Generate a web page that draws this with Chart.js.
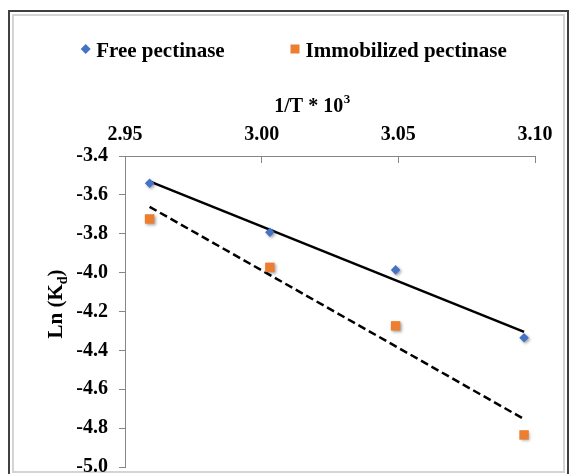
<!DOCTYPE html>
<html lang="en">
<head>
    <meta charset="UTF-8">
    <title>Ln(Kd) vs 1/T</title>
    <style>
        html, body { margin: 0; padding: 0; background: #fff; }
        #chart { display: block; }
    </style>
</head>
<body>
<canvas id="chart" width="570" height="474"></canvas>

<script src="https://cdn.jsdelivr.net/npm/chart.js@4.4.0/dist/chart.umd.min.js"></script>
<script>
    // ------------------------------------------------------------------ data

    var invT = [2.959, 3.003, 3.049, 3.096]          // 1/T * 10^3
    var freeLnKd = [-3.540, -3.792, -3.986, -4.335]
    var immobLnKd = [-3.724, -3.973, -4.274, -4.835]

    var xTicks = [2.95, 3.00, 3.05, 3.10]
    var yTicks = [-3.4, -3.6, -3.8, -4.0, -4.2, -4.4, -4.6, -4.8, -5.0]

    var seriesNames = ['Free pectinase', 'Immobilized pectinase']
    var seriesColors = ['#4472C4', '#ED7D31']

    // least squares trend line, spanning the data
    function trend (xs, ys) {
      var n = xs.length, mx = 0, my = 0, sxy = 0, sxx = 0
      for (var i = 0; i < n; i++) { mx += xs[i] / n; my += ys[i] / n }
      for (var j = 0; j < n; j++) {
        sxy += (xs[j] - mx) * (ys[j] - my)
        sxx += (xs[j] - mx) * (xs[j] - mx)
      }
      var b = sxy / sxx
      var x0 = Math.min.apply(null, xs), x1 = Math.max.apply(null, xs)
      return [{x: x0, y: my + b * (x0 - mx)}, {x: x1, y: my + b * (x1 - mx)}]
    }

    function pts (xs, ys) {
      return xs.map(function (x, i) { return {x: x, y: ys[i]} })
    }

    var SERIF = '"Liberation Serif", "Times New Roman", serif'
    var AXIS = '#868686'

    // ------------------------------------------------------------- plugins

    // frame, legend and axis titles
    var decor = {
      id: 'decor',
      beforeDraw: function (chart) {
        var c = chart.ctx
        c.save()
        c.fillStyle = '#fff'
        c.fillRect(0, 0, chart.width, chart.height)
        c.strokeStyle = '#d4d4d4'
        c.lineWidth = 2
        c.strokeRect(13, 15, 551, 457)
        c.strokeStyle = '#404040'
        c.lineWidth = 2
        c.strokeRect(9, 11, 559, 480)
        c.restore()
      },
      afterDraw: function (chart) {
        var c = chart.ctx
        c.save()
        c.fillStyle = '#000'
        c.textBaseline = 'alphabetic'

        // legend
        var legendX = [85.7, 295]
        c.font = 'bold 21px ' + SERIF
        chart.data.datasets.forEach(function (ds) {
          if (ds.legendIndex === undefined) return
          var cx = legendX[ds.legendIndex], cy = 49
          c.fillStyle = ds.backgroundColor
          c.beginPath()
          if (ds.pointStyle === 'rectRot') {
            c.moveTo(cx, cy - 5); c.lineTo(cx + 5, cy); c.lineTo(cx, cy + 5); c.lineTo(cx - 5, cy)
          } else {
            c.rect(cx - 4.5, cy - 4.5, 9, 9)
          }
          c.closePath()
          c.fill()
          c.fillStyle = '#000'
          c.fillText(ds.label, cx + 10.5, 56.5)
        })

        // x title: 1/T * 10^3
        c.font = 'bold 20px ' + SERIF
        var t1 = '1/T * 10'
        var w1 = c.measureText(t1).width
        c.font = 'bold 13px ' + SERIF
        var w2 = c.measureText('3').width
        var sx = 312 - (w1 + w2) / 2
        c.font = 'bold 20px ' + SERIF
        c.fillText(t1, sx, 111.5)
        c.font = 'bold 13px ' + SERIF
        c.fillText('3', sx + w1 + 0.5, 103)

        // y title: Ln (Kd), rotated
        c.translate(62, 304)
        c.rotate(-Math.PI / 2)
        c.font = 'bold 21px ' + SERIF
        var a = 'Ln (K', b = ')'
        var wa = c.measureText(a).width, wb = c.measureText(b).width
        c.font = 'bold 14px ' + SERIF
        var wd = c.measureText('d').width
        var ux = -(wa + wd + wb) / 2
        c.font = 'bold 21px ' + SERIF
        c.fillText(a, ux, 0)
        c.font = 'bold 14px ' + SERIF
        c.fillText('d', ux + wa, 5)
        c.font = 'bold 21px ' + SERIF
        c.fillText(b, ux + wa + wd, 0)
        c.restore()
      }
    }

    // soft shadow under markers
    var markerShadow = {
      id: 'markerShadow',
      beforeDatasetDraw: function (chart, args) {
        if (args.meta.type !== 'scatter') return
        var c = chart.ctx
        c.save()
        c.shadowColor = 'rgba(0, 0, 0, 0.35)'
        c.shadowBlur = 3
        c.shadowOffsetX = 1.5
        c.shadowOffsetY = 1.5
      },
      afterDatasetDraw: function (chart, args) {
        if (args.meta.type !== 'scatter') return
        chart.ctx.restore()
      }
    }

    // ---------------------------------------------------------------- chart

    var ctx = document.getElementById('chart').getContext('2d')

    new Chart(ctx, {
      type: 'scatter',
      data: {
        datasets: [
          {
            type: 'scatter',
            label: seriesNames[0],
            legendIndex: 0,
            data: pts(invT, freeLnKd),
            pointStyle: 'rectRot',
            pointRadius: 4.8,
            backgroundColor: seriesColors[0],
            borderWidth: 0,
            order: 0
          },
          {
            type: 'scatter',
            label: seriesNames[1],
            legendIndex: 1,
            data: pts(invT, immobLnKd),
            pointStyle: 'rect',
            pointRadius: 6.7,
            backgroundColor: seriesColors[1],
            borderWidth: 0,
            order: 0
          },
          {
            type: 'line',
            label: 'Free trend',
            data: trend(invT, freeLnKd),
            borderColor: '#000',
            borderWidth: 2.5,
            pointRadius: 0,
            fill: false,
            order: 1
          },
          {
            type: 'line',
            label: 'Immobilized trend',
            data: trend(invT, immobLnKd),
            borderColor: '#000',
            borderWidth: 2.5,
            borderDash: [8, 4],
            pointRadius: 0,
            fill: false,
            order: 1
          }
        ]
      },
      options: {
        responsive: false,
        animation: false,
        devicePixelRatio: 1,
        layout: {padding: {left: 14, right: 35, top: 70, bottom: 7}},
        plugins: {
          legend: {display: false},
          tooltip: {enabled: false}
        },
        scales: {
          x: {
            type: 'linear',
            position: 'top',
            min: xTicks[0],
            max: xTicks[xTicks.length - 1],
            afterBuildTicks: function (scale) {
              scale.ticks = xTicks.map(function (v) { return {value: v} })
            },
            afterFit: function (scale) {
              scale.height = 156 - 70
              scale.paddingLeft = 0
              scale.paddingRight = 0
            },
            grid: {drawOnChartArea: false, drawTicks: true, tickLength: -7, color: AXIS},
            border: {display: true, color: AXIS, width: 1},
            ticks: {
              padding: 16,
              color: '#000',
              font: {family: SERIF, size: 20, weight: 'bold'},
              callback: function (v) { return Number(v).toFixed(2) }
            }
          },
          y: {
            type: 'linear',
            min: yTicks[yTicks.length - 1],
            max: yTicks[0],
            afterBuildTicks: function (scale) {
              scale.ticks = yTicks.slice().reverse().map(function (v) { return {value: v} })
            },
            afterFit: function (scale) {
              scale.width = 125 - 14
              scale.paddingTop = 0
              scale.paddingBottom = 0
            },
            grid: {drawOnChartArea: false, drawTicks: true, tickLength: 6, color: AXIS},
            border: {display: true, color: AXIS, width: 1},
            ticks: {
              padding: 11,
              color: '#000',
              font: {family: SERIF, size: 20, weight: 'bold'},
              callback: function (v) { return Number(v).toFixed(1) }
            }
          }
        }
      },
      plugins: [decor, markerShadow]
    })
</script>
</body>
</html>
